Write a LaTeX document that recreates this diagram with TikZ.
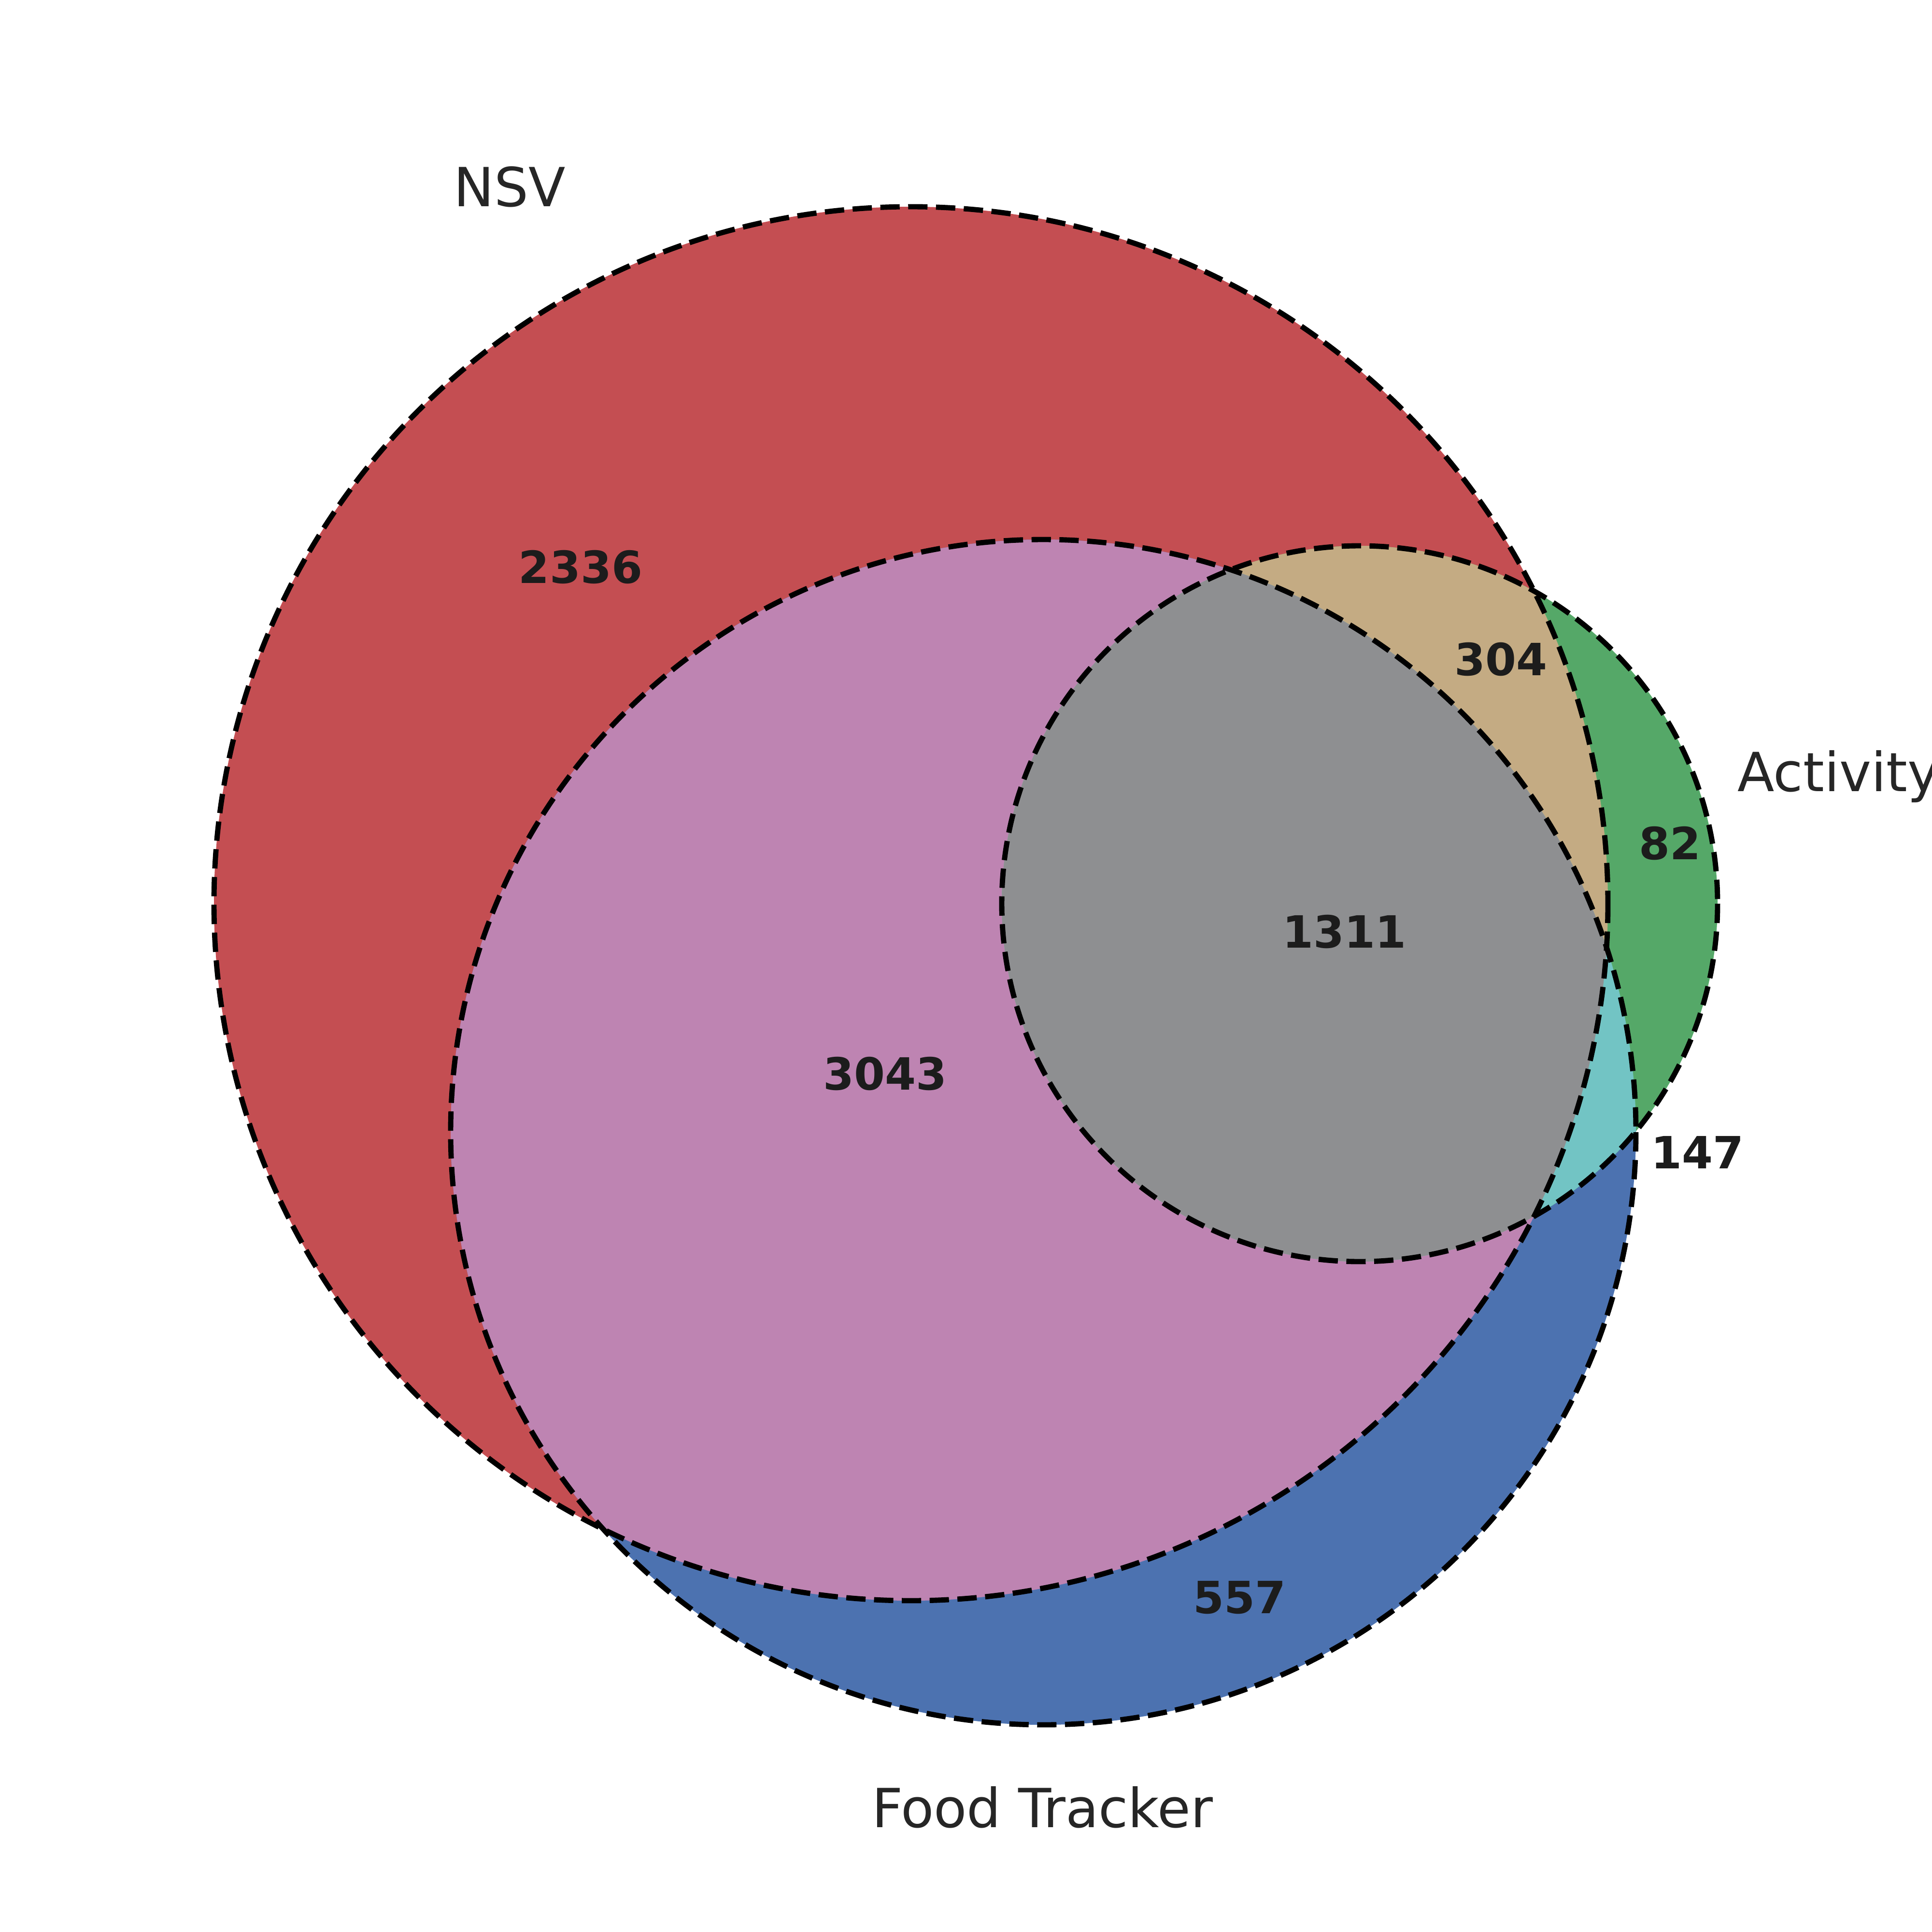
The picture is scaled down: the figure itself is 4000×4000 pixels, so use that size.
\documentclass[tikz,border=0pt]{standalone}
\usepackage{fontspec}
\setmainfont{DejaVu Sans}
\usepackage{tikz}
\definecolor{nsvred}{HTML}{C44E52}
\definecolor{foodblue}{HTML}{4C72B0}
\definecolor{actgreen}{HTML}{55A868}
\definecolor{nsvfood}{HTML}{BE84B2}
\definecolor{nsvact}{HTML}{C4AB83}
\definecolor{foodact}{HTML}{72C4C4}
\definecolor{allthree}{HTML}{8E8F91}
\definecolor{labelgray}{HTML}{262626}
\definecolor{countgray}{HTML}{1C1C1C}

\begin{document}
\begin{tikzpicture}[
      x=0.005cm, y=-0.005cm,
      setlabel/.style={
          anchor=base, inner sep=0pt, text=labelgray,
          font=\fontsize{15.9}{19}\selectfont
      },
      count/.style={
          anchor=base, inner sep=0pt, text=countgray,
          font=\fontsize{13.1}{16}\selectfont\bfseries
      },
      outline/.style={
          draw=black, line width=1.55pt, dash pattern=on 5.7pt off 2.5pt
      }
  ]
      \useasboundingbox (0,0) rectangle (4000,4000);

      % Centres
      \coordinate (nsv) at (1886,1871);
      \coordinate (food) at (2160,2344);
      \coordinate (act) at (2815,1871);
      \def\rnsv{1443}
      \def\rfood{1227}
      \def\ract{741}

      % Ensembles
      \fill[nsvred] (nsv) circle[radius=\rnsv];
      \fill[foodblue] (food) circle[radius=\rfood];
      \fill[actgreen] (act) circle[radius=\ract];

      % Intersections
      \begin{scope}
          \clip (nsv) circle[radius=\rnsv];
          \fill[nsvfood] (food) circle[radius=\rfood];
          \fill[nsvact] (act) circle[radius=\ract];
      \end{scope}
      \begin{scope}
          \clip (food) circle[radius=\rfood];
          \fill[foodact] (act) circle[radius=\ract];
          \clip (nsv) circle[radius=\rnsv];
          \fill[allthree] (act) circle[radius=\ract];
      \end{scope}

      % Contours
      \draw[outline] (nsv) circle[radius=\rnsv];
      \draw[outline] (food) circle[radius=\rfood];
      \draw[outline] (act) circle[radius=\ract];

      % Noms
      \node[setlabel] (nsvname) at (1055,428) {NSV};
      \node[setlabel, anchor=base west] (actname) at (3596,1638) {Activity};
      \node[setlabel] (foodname) at (2158,3783) {Food Tracker};

      % Effectifs
      \node[count] (onlynsv) at (1202,1207) {2336};
      \node[count] (nsvactn) at (3107,1398) {304};
      \node[count] (onlyact) at (3457,1779) {82};
      \node[count] (alln) at (2783,1962) {1311};
      \node[count] (nsvfoodn) at (1832,2256) {3043};
      \node[count] (foodactn) at (3514,2419) {147};
      \node[count] (onlyfood) at (2566,3340) {557};
  \end{tikzpicture}
\end{document}
